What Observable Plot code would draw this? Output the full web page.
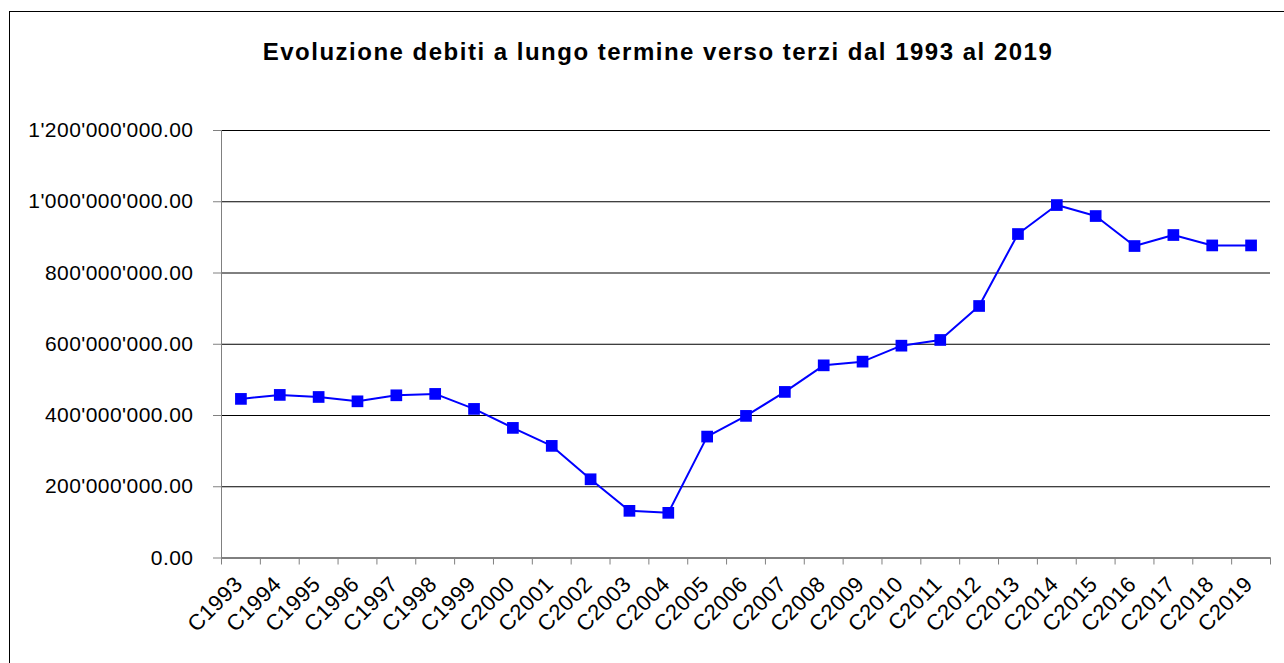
<!DOCTYPE html>
<html>
<head>
<meta charset="utf-8">
<script src="https://cdn.jsdelivr.net/npm/d3@7"></script>
<script src="https://cdn.jsdelivr.net/npm/@observablehq/plot@0.6"></script>
<style>
  html, body { margin: 0; padding: 0; background: #fff; }
  body { width: 1284px; height: 663px; overflow: hidden; position: relative; font-family: "Liberation Sans", Arial, sans-serif; }
  #frame { position: absolute; left: 9px; top: 11px; width: 1400px; height: 800px; border: 1px solid #000; box-sizing: border-box; }
  #title { position: absolute; left: 0; top: 40px; width: 1316px; text-align: center; font: bold 24px/24px "Liberation Sans", Arial, sans-serif; letter-spacing: 1.5px; color: #000; white-space: nowrap; }
  #chart { position: absolute; left: 0; top: 100px; }
  #chart svg text { letter-spacing: 0.45px; }
</style>
</head>
<body>
<div id="frame"></div>
<div id="title">Evoluzione debiti a lungo termine verso terzi dal 1993 al 2019</div>
<div id="chart"></div>
<script>
const categories = ["C1993","C1994","C1995","C1996","C1997","C1998","C1999","C2000","C2001","C2002","C2003","C2004","C2005","C2006","C2007","C2008","C2009","C2010","C2011","C2012","C2013","C2014","C2015","C2016","C2017","C2018","C2019"];
const valuesMillions = [446.6, 457.8, 452.0, 439.8, 456.7, 460.6, 418.5, 365.2, 314.7, 221.0, 132.4, 126.8, 340.8, 398.9, 466.2, 540.8, 551.2, 596.0, 612.0, 707.4, 909.4, 990.7, 959.9, 875.7, 906.6, 877.4, 877.4];
const yTicks = [0, 200e6, 400e6, 600e6, 800e6, 1000e6, 1200e6];

const data = categories.map((c, i) => ({cat: c, value: valuesMillions[i] * 1e6}));

const fmt = d3.formatLocale({decimal: ".", thousands: "'", grouping: [3], currency: ["", ""]}).format(",.2f");

const W = 1284, H = 563, mL = 221, mR = 14, mT = 30, mB = 105.5;
const plotH = H - mT - mB;
const bw = (W - mL - mR) / categories.length;
const font = "Liberation Sans, Arial, sans-serif";

const chart = Plot.plot({
  width: W,
  height: H,
  marginLeft: mL,
  marginRight: mR,
  marginTop: mT,
  marginBottom: mB,
  style: {background: "transparent", overflow: "visible", fontFamily: font, fontSize: "21px", color: "#000"},
  x: {type: "band", domain: categories, padding: 0, round: false, axis: null},
  y: {domain: [0, 1200e6], axis: null},
  marks: [
    Plot.gridY(yTicks, {stroke: "#000", strokeOpacity: 1, strokeWidth: 1}),
    Plot.axisY(yTicks, {tickSize: 8, tickPadding: 20, tickFormat: fmt, stroke: "#808080", fill: "#000", fontSize: 21, fontFamily: font, label: null}),
    Plot.frame({anchor: "left", stroke: "#808080"}),
    Plot.frame({anchor: "bottom", stroke: "#808080"}),
    Plot.ruleX(categories, {x: d => d, dx: -bw / 2, stroke: "#808080", insetTop: plotH, insetBottom: -7}),
    Plot.ruleX(categories.slice(-1), {x: d => d, dx: bw / 2, stroke: "#808080", insetTop: plotH, insetBottom: -7}),
    Plot.text(categories, {x: d => d, frameAnchor: "bottom", text: d => d, rotate: -45, textAnchor: "end", lineAnchor: "bottom", dx: 3, dy: 27.5, fontSize: 22, fontFamily: font, fill: "#000"}),
    Plot.line(data, {x: "cat", y: "value", stroke: "#0000ff", strokeWidth: 2}),
    Plot.dot(data, {x: "cat", y: "value", symbol: "square", r: 6.6, fill: "#0000ff", stroke: "none"})
  ]
});
document.getElementById("chart").appendChild(chart);
</script>
</body>
</html>
